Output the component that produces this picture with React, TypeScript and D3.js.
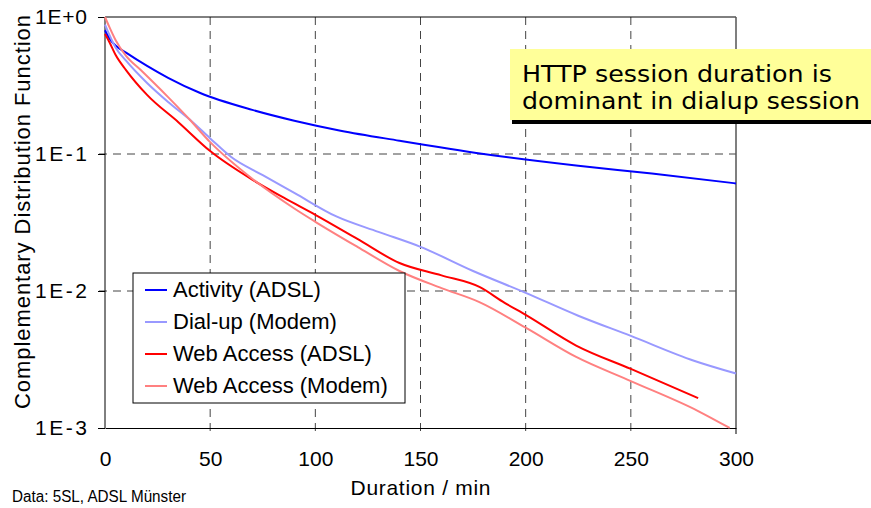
import React, { useEffect, useRef } from 'react';
import * as d3 from 'd3';

const WIDTH = 871;
const HEIGHT = 508;
const MARGIN = { top: 17, right: 135, bottom: 80, left: 105 };
const FONT = '"Liberation Sans", Arial, sans-serif';

const X_TICKS = [0, 50, 100, 150, 200, 250, 300];
const Y_TICKS = [1, 0.1, 0.01, 0.001];
const Y_TICK_LABELS = ['1E+0', '1E-1', '1E-2', '1E-3'];

const SERIES_NAMES = ['Activity (ADSL)', 'Dial-up (Modem)', 'Web Access (ADSL)', 'Web Access (Modem)'];
const COLORS = ['#0000ff', '#9999ff', '#ff0000', '#ff8080'];

// duration in minutes, complementary CDF
const ACTIVITY_ADSL_X = [0, 2, 5, 10, 20, 30, 45, 70, 90, 112, 140, 180, 225, 260, 300];
const ACTIVITY_ADSL_Y = [0.8, 0.7, 0.62, 0.55, 0.44, 0.36, 0.28, 0.21, 0.175, 0.148, 0.125, 0.1, 0.082, 0.072, 0.061];

const DIALUP_MODEM_X = [0, 5, 10, 20, 30, 40, 50, 60, 75, 90, 110, 130, 150, 175, 200, 225, 250, 280, 300];
const DIALUP_MODEM_Y = [0.88, 0.6, 0.48, 0.33, 0.24, 0.18, 0.13, 0.095, 0.07, 0.052, 0.035, 0.027, 0.021, 0.014, 0.0097, 0.0066, 0.0047, 0.0031, 0.0025];

const WEB_ADSL_X = [0, 2, 5, 10, 20, 35, 50, 70, 85, 100, 120, 140, 160, 178, 190, 200, 224, 250, 282];
const WEB_ADSL_Y = [0.75, 0.66, 0.53, 0.41, 0.27, 0.17, 0.105, 0.065, 0.048, 0.036, 0.024, 0.016, 0.013, 0.0107, 0.0082, 0.0067, 0.004, 0.0027, 0.00165];

const WEB_MODEM_X = [0, 2, 5, 10, 17, 30, 40, 50, 70, 90, 100, 120, 140, 160, 178, 200, 224, 250, 282, 297];
const WEB_MODEM_Y = [1.0, 0.85, 0.68, 0.52, 0.41, 0.26, 0.18, 0.122, 0.066, 0.04, 0.032, 0.021, 0.014, 0.0105, 0.0083, 0.0054, 0.0033, 0.0022, 0.00133, 0.001];

const SERIES = [
    [ACTIVITY_ADSL_X, ACTIVITY_ADSL_Y],
    [DIALUP_MODEM_X, DIALUP_MODEM_Y],
    [WEB_ADSL_X, WEB_ADSL_Y],
    [WEB_MODEM_X, WEB_MODEM_Y],
];

export default function App() {
    const ref = useRef<SVGSVGElement>(null);

    useEffect(() => {
        if (!ref.current) return;
        const svg = d3.select(ref.current);
        svg.selectAll('*').remove();

        const x0 = MARGIN.left, x1 = WIDTH - MARGIN.right;
        const y0 = MARGIN.top, y1 = HEIGHT - MARGIN.bottom;

        const x = d3.scaleLinear().domain([0, 300]).range([x0, x1]);
        const y = d3.scaleLog().domain([0.001, 1]).range([y1, y0]);

        // grid
        const grid = svg.append('g').attr('stroke', '#444').attr('stroke-dasharray', '8,6').attr('stroke-width', 1);
        X_TICKS.slice(1, -1).forEach(t => {
            grid.append('line').attr('x1', x(t)).attr('x2', x(t)).attr('y1', y0).attr('y2', y1 + 6);
        });
        Y_TICKS.slice(1, -1).forEach(t => {
            grid.append('line').attr('x1', x0 - 6).attr('x2', x1).attr('y1', y(t)).attr('y2', y(t));
        });

        // frame
        svg.append('line').attr('x1', x0).attr('x2', x1).attr('y1', y0).attr('y2', y0).attr('stroke', '#000');
        svg.append('line').attr('x1', x1).attr('x2', x1).attr('y1', y0).attr('y2', y1 + 6).attr('stroke', '#555').attr('stroke-width', 1.5);

        // axes
        const xAxis = svg.append('g').attr('transform', `translate(0,${y1})`)
            .call(d3.axisBottom(x).tickValues(X_TICKS).tickSize(0).tickPadding(23));
        xAxis.select('.domain').attr('stroke', '#000');
        xAxis.selectAll('text').attr('font-family', FONT).attr('font-size', 21).attr('fill', '#000');

        const yAxis = svg.append('g').attr('transform', `translate(${x0},0)`)
            .call(d3.axisLeft(y).tickValues(Y_TICKS).tickSize(7).tickPadding(11)
                .tickFormat((_, i) => Y_TICK_LABELS[i]));
        yAxis.select('.domain').attr('d', `M0,${y0}V${y1}`).attr('stroke', '#000');
        yAxis.selectAll('line').attr('stroke', '#000');
        yAxis.selectAll('text').attr('font-family', FONT).attr('font-size', 21).attr('fill', '#000')
            .attr('textLength', 52).attr('lengthAdjust', 'spacing');

        svg.append('text').attr('x', (x0 + x1) / 2).attr('y', 495).attr('text-anchor', 'middle')
            .attr('font-family', FONT).attr('font-size', 21).attr('textLength', 140).attr('lengthAdjust', 'spacing')
            .text('Duration / min');

        svg.append('text').attr('transform', `translate(30,212) rotate(-90)`).attr('text-anchor', 'middle')
            .attr('font-family', FONT).attr('font-size', 22).attr('textLength', 394).attr('lengthAdjust', 'spacing')
            .text('Complementary Distribution Function');

        svg.append('text').attr('x', 12).attr('y', 502)
            .attr('font-family', FONT).attr('font-size', 16)
            .attr('textLength', 174).attr('lengthAdjust', 'spacingAndGlyphs').text('Data: 5SL, ADSL Münster');

        // lines
        const line = d3.line<[number, number]>().x(d => x(d[0])).y(d => y(d[1])).curve(d3.curveMonotoneX);
        SERIES.forEach(([xs, ys], i) => {
            const pts = xs.map((v, j) => [v, ys[j]] as [number, number]);
            svg.append('path').datum(pts).attr('d', line).attr('fill', 'none')
                .attr('stroke', COLORS[i]).attr('stroke-width', 2).attr('stroke-linejoin', 'round');
        });

        // legend
        const lg = svg.append('g').attr('transform', 'translate(133,273)');
        lg.append('rect').attr('width', 272).attr('height', 130).attr('fill', '#fff').attr('stroke', '#000');
        SERIES_NAMES.forEach((name, i) => {
            const cy = 17 + i * 32;
            lg.append('line').attr('x1', 12).attr('x2', 34).attr('y1', cy).attr('y2', cy)
                .attr('stroke', COLORS[i]).attr('stroke-width', 2);
            lg.append('text').attr('x', 40).attr('y', cy + 7).attr('font-family', FONT)
                .attr('font-size', 22).text(name);
        });

        // annotation
        const an = svg.append('g').attr('transform', 'translate(510,49)');
        an.append('rect').attr('x', 2).attr('y', 4).attr('width', 361).attr('height', 71).attr('fill', '#000');
        an.append('rect').attr('width', 361).attr('height', 71).attr('fill', '#ffff99');
        [['HTTP session duration is', 310], ['dominant in dialup session', 338]].forEach(([t, w], i) => {
            an.append('text').attr('x', 12).attr('y', 33 + i * 27).attr('font-family', '"DejaVu Sans", sans-serif')
                .attr('font-size', 23).attr('textLength', w).attr('lengthAdjust', 'spacingAndGlyphs').text(t as string);
        });
    }, []);

    return (
        <svg ref={ref} width={WIDTH} height={HEIGHT}
            style={{ position: 'absolute', left: 0, top: 0, background: '#fff' }} />
    );
}
